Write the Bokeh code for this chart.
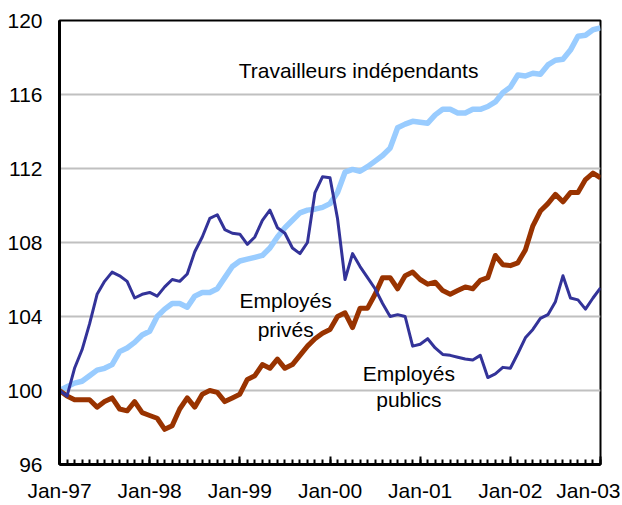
from bokeh.plotting import figure
from bokeh.models import Range1d, FixedTicker, Label
from bokeh.embed import file_html
from bokeh.resources import INLINE

# month index 0 = Jan-97 ... 72 = Jan-03
months = list(range(73))
tick_months = [0, 12, 24, 36, 48, 60, 72]
tick_labels = ["Jan-97", "Jan-98", "Jan-99", "Jan-00", "Jan-01", "Jan-02", "Jan-03"]
y_ticks = [96, 100, 104, 108, 112, 116, 120]

independants = [100.0, 100.2, 100.4, 100.5, 100.8, 101.1, 101.2, 101.4, 102.1, 102.3, 102.6, 103.0,
                103.2, 104.0, 104.4, 104.7, 104.7, 104.5, 105.1, 105.3, 105.3, 105.5, 106.1, 106.7,
                107.0, 107.1, 107.2, 107.3, 107.7, 108.3, 108.8, 109.2, 109.6, 109.75, 109.8, 109.9,
                110.1, 110.7, 111.8, 111.95, 111.85, 112.1, 112.4, 112.7, 113.1, 114.2, 114.4, 114.55,
                114.5, 114.45, 114.9, 115.2, 115.2, 115.0, 115.0, 115.2, 115.2, 115.35, 115.6, 116.1,
                116.4, 117.05, 117.0, 117.15, 117.1, 117.6, 117.85, 117.9, 118.4, 119.15, 119.2, 119.5,
                119.6]

publics = [100.0, 99.7, 101.2, 102.2, 103.6, 105.2, 105.9, 106.4, 106.2, 105.9, 105.0, 105.2,
           105.3, 105.1, 105.6, 106.0, 105.9, 106.3, 107.5, 108.3, 109.3, 109.5, 108.7, 108.5,
           108.45, 107.9, 108.3, 109.2, 109.75, 108.8, 108.5, 107.7, 107.4, 108.0, 110.7, 111.55,
           111.5, 109.3, 106.0, 107.4, 106.7, 106.1, 105.5, 104.7, 104.0, 104.1, 104.0, 102.4,
           102.5, 102.8, 102.3, 101.95, 101.9, 101.8, 101.7, 101.65, 101.9, 100.7, 100.9, 101.25,
           101.2, 102.0, 102.85, 103.3, 103.9, 104.1, 104.8, 106.2, 105.0, 104.9, 104.4, 105.0,
           105.55]

prives = [100.0, 99.7, 99.5, 99.5, 99.5, 99.1, 99.4, 99.6, 99.0, 98.9, 99.4, 98.8,
          98.65, 98.5, 97.9, 98.1, 99.0, 99.6, 99.1, 99.8, 100.0, 99.9, 99.4, 99.6,
          99.8, 100.6, 100.8, 101.4, 101.2, 101.7, 101.2, 101.4, 101.9, 102.4, 102.8, 103.1,
          103.3, 104.0, 104.2, 103.4, 104.45, 104.45, 105.2, 106.1, 106.1, 105.5, 106.2, 106.4,
          106.0, 105.75, 105.85, 105.4, 105.2, 105.4, 105.6, 105.5, 105.95, 106.1, 107.3, 106.8,
          106.75, 106.9, 107.6, 108.9, 109.7, 110.1, 110.6, 110.2, 110.7, 110.7, 111.4, 111.75,
          111.5]

FONT = "Liberation Sans"

p = figure(width=620, height=504, output_backend="svg", toolbar_location=None,
           x_range=Range1d(0, 72), y_range=Range1d(96, 120),
           min_border_left=59, min_border_right=20, min_border_top=20, min_border_bottom=36)

p.background_fill_color = "white"
p.border_fill_color = "white"
p.outline_line_color = "black"
p.outline_line_width = 2

p.xgrid.grid_line_color = None
p.ygrid.grid_line_color = "#C0C0C0"
p.ygrid.grid_line_width = 2

p.xaxis.ticker = FixedTicker(ticks=tick_months, minor_ticks=months)
p.xaxis.major_label_overrides = {m: l for m, l in zip(tick_months, tick_labels)}
p.xaxis.major_tick_in = 8
p.xaxis.major_tick_out = 0
p.xaxis.minor_tick_in = 5
p.xaxis.minor_tick_out = 0
p.xaxis.major_tick_line_width = 2
p.xaxis.minor_tick_line_width = 2
p.xaxis.axis_line_width = 3
p.xaxis.major_label_standoff = 14

p.yaxis.ticker = FixedTicker(ticks=y_ticks)
p.yaxis.major_tick_in = 0
p.yaxis.major_tick_out = 0
p.yaxis.minor_tick_line_color = None
p.yaxis.axis_line_width = 3
p.yaxis.major_label_standoff = 17

for ax in (p.xaxis, p.yaxis):
    ax.major_label_text_font = FONT
    ax.major_label_text_font_size = "21px"
    ax.major_label_text_color = "black"
    ax.axis_line_color = "black"
    ax.major_tick_line_color = "black"

p.line(months, independants, line_color="#99CCFF", line_width=5.5, line_join="round")
p.line(months, prives, line_color="#993300", line_width=5, line_join="round")
p.line(months, publics, line_color="#333399", line_width=3, line_join="round")

labels = [
    (39.8, 117.3, "Travailleurs indépendants"),
    (30.1, 104.85, "Employés"),
    (30.1, 103.3, "privés"),
    (46.5, 100.9, "Employés"),
    (46.5, 99.5, "publics"),
]
for x, y, t in labels:
    p.add_layout(Label(x=x, y=y, text=t, text_font=FONT, text_font_size="21px",
                       text_color="black", text_align="center", text_baseline="middle"))

open("out.html", "w").write(file_html(p, INLINE))
